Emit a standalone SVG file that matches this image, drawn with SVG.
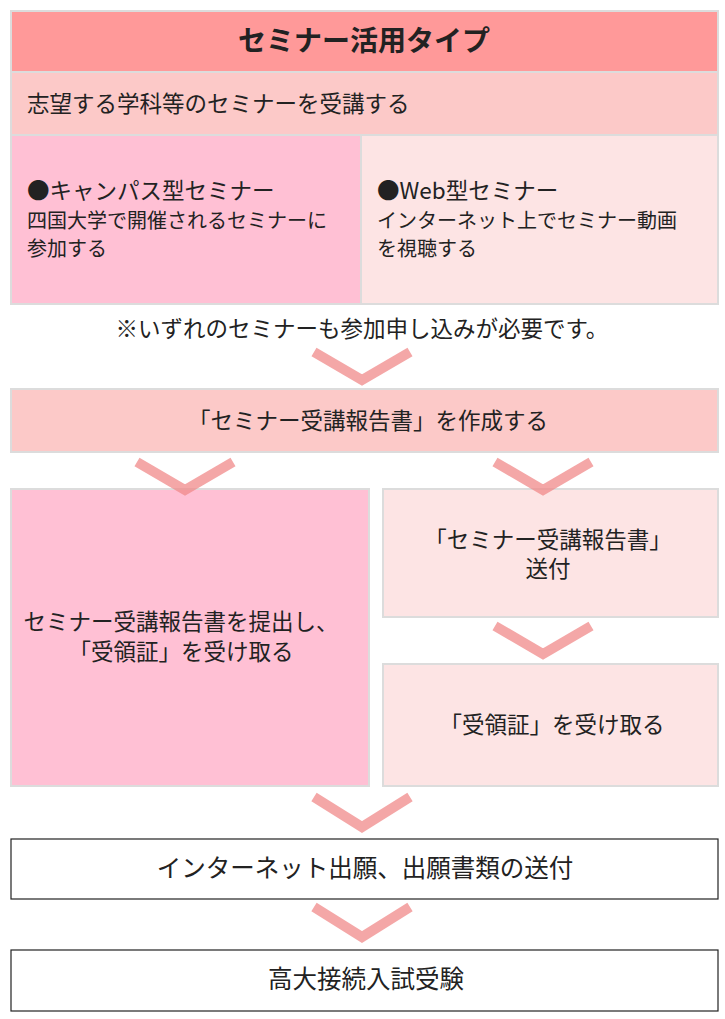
<svg xmlns="http://www.w3.org/2000/svg" width="725" height="1019" viewBox="0 0 725 1019">
<style>
text{font-family:"Noto Sans CJK JP","Noto Sans",sans-serif;font-size:22.5px;fill:#222}
.s{font-size:20px}
.l{font-size:24.5px}
.b{stroke:#dcdcdc;stroke-width:2}
.w{fill:#fff;stroke:#222;stroke-width:1.2}
.c{fill:none;stroke:#f08a8a;stroke-opacity:.75;stroke-width:10;stroke-linejoin:miter}
.m{text-anchor:middle}
</style>
<rect width="725" height="1019" fill="#fff"/>
<g id="title"><rect class="b" x="11" y="11" width="707" height="61" fill="#ff9999"/><text class="m" x="364" y="51" style="font-size:28px;font-weight:bold">セミナー活用タイプ</text></g>
<g id="row2"><rect class="b" x="11" y="72" width="707" height="63" fill="#fcc9c8"/><text x="27" y="112">志望する学科等のセミナーを受講する</text></g>
<g id="campus"><rect class="b" x="11" y="135" width="350" height="169" fill="#ffc0d4"/><text x="27" y="199">●キャンパス型セミナー</text><text class="s" x="27" y="228">四国大学で開催されるセミナーに</text><text class="s" x="27" y="256">参加する</text></g>
<g id="web"><rect class="b" x="361" y="135" width="357" height="169" fill="#fde4e4"/><text x="377" y="199">●Web型セミナー</text><text class="s" x="377" y="228">インターネット上でセミナー動画</text><text class="s" x="377" y="256">を視聴する</text></g>
<g id="note"><text class="m" x="362" y="337">※いずれのセミナーも参加申し込みが必要です。</text></g>
<g id="report"><rect class="b" x="11" y="389" width="707" height="63" fill="#fcc9c8"/><text class="m" x="368" y="429">「セミナー受講報告書」を作成する</text></g>
<g id="submit"><rect class="b" x="11" y="489" width="358" height="297" fill="#ffc0d4"/><text class="m" x="181" y="630">セミナー受講報告書を提出し、</text><text class="m" x="181" y="660">「受領証」を受け取る</text></g>
<g id="send"><rect class="b" x="383" y="489" width="335" height="128" fill="#fde4e4"/><text class="m" x="548" y="548">「セミナー受講報告書」</text><text class="m" x="548" y="577">送付</text></g>
<g id="receive"><rect class="b" x="383" y="664" width="335" height="122" fill="#fde4e4"/><text class="m" x="552" y="733">「受領証」を受け取る</text></g>
<g id="apply"><rect class="w" x="11" y="839" width="707" height="60"/><text class="l m" x="365" y="877">インターネット出願、出願書類の送付</text></g>
<g id="exam"><rect class="w" x="11" y="950" width="707" height="61"/><text class="l m" x="366" y="988">高大接続入試受験</text></g>
<g id="connectors">
<path class="c" d="M314 352 L362 380 L410 352"/>
<path class="c" d="M137 462 L185 490 L233 462"/>
<path class="c" d="M495 462 L543 490 L591 462"/>
<path class="c" d="M495 626 L543 654 L591 626"/>
<path class="c" d="M314 797 L362 827 L410 797"/>
<path class="c" d="M314 907 L362 937 L410 907"/>
</g>
</svg>
